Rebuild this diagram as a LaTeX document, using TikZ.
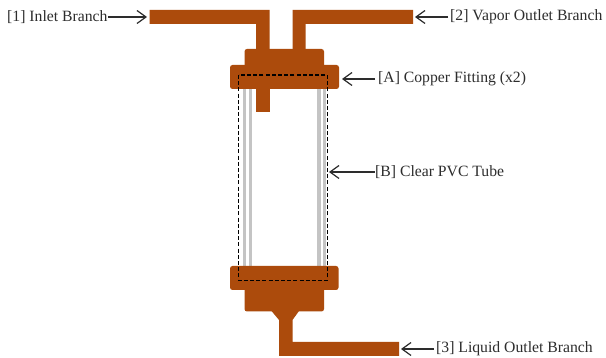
\documentclass[tikz,border=0pt]{standalone}
\usepackage{fontspec}
\setmainfont{Liberation Serif}
\usetikzlibrary{arrows.meta}
\definecolor{copper}{RGB}{172,75,12}
\definecolor{tubegray}{RGB}{196,196,196}
\definecolor{labelcol}{RGB}{45,45,45}
\tikzset{
  copperfill/.style={fill=copper,draw=none},
  fitting/.style={fill=copper,draw=none,rounded corners=2.5pt},
  tubeline/.style={fill=tubegray,draw=none},
  pointer/.style={draw=labelcol,line width=1.2pt,-{Straight Barb[length=9pt,width=13pt,line width=1.2pt]}},
  lbl/.style={font=\fontsize{15.7pt}{18pt}\selectfont,text=labelcol,inner sep=0pt,anchor=west},
}
\begin{document}
\begin{tikzpicture}[x=1pt,y=-1pt]
\useasboundingbox (0,0) rectangle (606,358);
\fill[white] (0,0) rectangle (606,358);
% tubes
\fill[tubeline] (242.7,85) rectangle (246,270);
\fill[tubeline] (248.7,85) rectangle (252,270);
\fill[tubeline] (317,85) rectangle (320.5,270);
\fill[tubeline] (322.7,85) rectangle (326,270);
% top fitting
\fill[copperfill] (149.5,10) -- (269.5,10) -- (269.5,55) -- (256,55) -- (256,24) -- (149.5,24) -- cycle;
\fill[copperfill] (292.5,10) -- (413,10) -- (413,24) -- (305.5,24) -- (305.5,55) -- (292.5,55) -- cycle;
\fill[fitting] (244.5,72) -- (244.5,49) -- (324,49) -- (324,72) -- cycle;
\fill[fitting] (230,65) rectangle (339,89);
\fill[copperfill] (256,85) rectangle (269.5,112);
% bottom fitting
\fill[fitting] (230,266) rectangle (338.5,290);
\fill[fitting] (244.5,285) -- (324,285) -- (324,311.5) -- (244.5,311.5) -- cycle;
\fill[copperfill] (271.5,311) -- (279,320) -- (279,356) -- (399,356) -- (399,342) -- (292.5,342) -- (292.5,320) -- (299,311) -- cycle;
% dashed
\draw[black,line width=1.7pt,dash pattern=on 4pt off 2.2pt] (238.5,75) rectangle (327.5,280.5);
% labels
\node[lbl] (l1) at (7,17) {[1] Inlet Branch};
\node[lbl] (l2) at (450,17) {[2] Vapor Outlet Branch};
\node[lbl] (la) at (378,79) {[A] Copper Fitting (x2)};
\node[lbl] (lb) at (375,172) {[B] Clear PVC Tube};
\node[lbl] (l3) at (436,349) {[3] Liquid Outlet Branch};
\coordinate (t1) at (147,17);
\coordinate (t2) at (415,17);
\coordinate (ta) at (342,79);
\coordinate (tb) at (329,172);
\coordinate (t3) at (401,349);
\draw[pointer] (l1.east) ++(0.5,0) -- (t1);
\draw[pointer] (l2.west) ++(-2,0) -- (t2);
\draw[pointer] (la.west) ++(-3,0) -- (ta);
\draw[pointer] (lb.west) ++(-0.5,0) -- (tb);
\draw[pointer] (l3.west) ++(-2,0) -- (t3);
\end{tikzpicture}
\end{document}
